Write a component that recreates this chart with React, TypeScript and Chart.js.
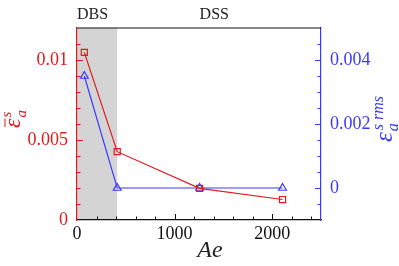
import React, { useEffect, useRef } from "react";
import { Chart, registerables } from "chart.js";

Chart.register(...registerables);

// ---- data ----
const aeValues = [75, 412, 1256, 2106];
const meanStrain = [0.01048, 0.00427, 0.00198, 0.00128];
const rmsStrain = [0.0035, 0, 0, 0];

const xTickValues = [0, 1000, 2000];
const xTickLabels = ["0", "1000", "2000"];
const yLeftTickValues = [0, 0.005, 0.01];
const yLeftTickLabels = ["0", "0.005", "0.01"];
const yRightTickValues = [0, 0.002, 0.004];
const yRightTickLabels = ["0", "0.002", "0.004"];

const regimeLabels = ["DBS", "DSS"];
const regimeStarts = [0, 1256];
const dbsShadeRange = [0, 412];

const RED = "#e01a1a";
const BLUE = "#3a3aff";
const SERIF = "'Liberation Serif', 'DejaVu Serif', serif";

function labelFor(values: number[], labels: string[], v: number) {
  const i = values.findIndex((t) => Math.abs(t - v) < 1e-9);
  return i >= 0 ? labels[i] : "";
}

const decorPlugin = {
  id: "decor",
  beforeDraw(chart: any) {
    const { ctx, chartArea, scales } = chart;
    const x0 = scales.x.getPixelForValue(dbsShadeRange[0]);
    const x1 = scales.x.getPixelForValue(dbsShadeRange[1]);
    ctx.save();
    ctx.fillStyle = "#d4d4d4";
    ctx.fillRect(x0, chartArea.top, x1 - x0, chartArea.bottom - chartArea.top);
    ctx.restore();
  },
  afterDraw(chart: any) {
    const { ctx, chartArea, scales } = chart;
    const { left, right, top, bottom } = chartArea;
    ctx.save();
    // top border
    ctx.strokeStyle = "#111";
    ctx.lineWidth = 1.2;
    ctx.beginPath();
    ctx.moveTo(left, top);
    ctx.lineTo(right, top);
    ctx.stroke();

    // inward ticks x
    ctx.lineWidth = 1;
    ctx.strokeStyle = "#111";
    for (let v = 200; v < 2500; v += 200) {
      const px = Math.round(scales.x.getPixelForValue(v)) + 0.5;
      const len = v % 1000 === 0 ? 6 : 3.5;
      ctx.beginPath();
      ctx.moveTo(px, bottom);
      ctx.lineTo(px, bottom - len);
      ctx.stroke();
    }
    // inward ticks left y
    ctx.strokeStyle = RED;
    for (let i = 1; i < 12; i++) {
      const v = i * 0.001;
      const py = Math.round(scales.y.getPixelForValue(v)) + 0.5;
      const len = i % 5 === 0 ? 6 : 3.5;
      ctx.beginPath();
      ctx.moveTo(left, py);
      ctx.lineTo(left + len, py);
      ctx.stroke();
    }
    // inward ticks right y
    ctx.strokeStyle = BLUE;
    for (let i = -1; i < 10; i++) {
      const v = i * 0.0005;
      const py = Math.round(scales.y1.getPixelForValue(v)) + 0.5;
      const len = i % 4 === 0 ? 6 : 3.5;
      ctx.beginPath();
      ctx.moveTo(right, py);
      ctx.lineTo(right - len, py);
      ctx.stroke();
    }

    // regime labels
    ctx.fillStyle = "#222";
    ctx.font = `16px ${SERIF}`;
    ctx.textBaseline = "alphabetic";
    ctx.textAlign = "left";
    regimeLabels.forEach((t, i) => {
      ctx.fillText(t, scales.x.getPixelForValue(regimeStarts[i]), 19);
    });

    // x title
    ctx.fillStyle = "#222";
    ctx.font = `italic 24px ${SERIF}`;
    ctx.textAlign = "center";
    ctx.fillText("Ae", 210, 257);

    // left title
    ctx.save();
    ctx.translate(20, 128);
    ctx.rotate(-Math.PI / 2);
    ctx.fillStyle = RED;
    ctx.strokeStyle = RED;
    ctx.textAlign = "left";
    ctx.font = `italic 24px ${SERIF}`;
    ctx.fillText("ε", 0, 0);
    const w1 = ctx.measureText("ε").width;
    ctx.lineWidth = 1;
    ctx.beginPath();
    ctx.moveTo(1, -15);
    ctx.lineTo(w1, -15);
    ctx.stroke();
    ctx.font = `italic 15px ${SERIF}`;
    ctx.fillText("s", w1 + 1, -9);
    ctx.fillText("a", w1 + 1, 6);
    ctx.restore();

    // right title
    ctx.save();
    ctx.translate(392, 142);
    ctx.rotate(-Math.PI / 2);
    ctx.fillStyle = BLUE;
    ctx.textAlign = "left";
    ctx.font = `italic 25px ${SERIF}`;
    ctx.fillText("ε", 0, 0);
    const w2 = ctx.measureText("ε").width;
    ctx.font = `italic 16px ${SERIF}`;
    ctx.fillText("s rms", w2 + 2, -9);
    ctx.fillText("a", w2 + 1, 6);
    ctx.restore();

    ctx.restore();
  },
};

export default function App() {
  const ref = useRef<HTMLCanvasElement | null>(null);
  useEffect(() => {
    if (!ref.current) return;
    const chart = new Chart(ref.current, {
      type: "scatter",
      data: {
        datasets: [
          {
            label: "mean",
            data: aeValues.map((x, i) => ({ x, y: meanStrain[i] })),
            yAxisID: "y",
            showLine: true,
            borderColor: RED,
            borderWidth: 1.2,
            pointStyle: "rect",
            pointRadius: 4.3,
            pointBorderColor: RED,
            pointBorderWidth: 1.2,
            pointBackgroundColor: "rgba(0,0,0,0)",
          },
          {
            label: "rms",
            data: aeValues.map((x, i) => ({ x, y: rmsStrain[i] })),
            yAxisID: "y1",
            showLine: true,
            borderColor: BLUE,
            borderWidth: 1.2,
            pointStyle: "triangle",
            pointRadius: 4.5,
            pointBorderColor: BLUE,
            pointBorderWidth: 1.2,
            pointBackgroundColor: "rgba(0,0,0,0)",
          },
        ],
      },
      options: {
        animation: false,
        responsive: true,
        maintainAspectRatio: false,
        layout: { padding: { top: 28, left: 0, right: 0, bottom: 0 } },
        plugins: { legend: { display: false }, tooltip: { enabled: false } },
        scales: {
          x: {
            type: "linear",
            min: 0,
            max: 2500,
            grid: { display: false, drawTicks: false },
            border: { display: true, color: "#111", width: 1.2 },
            afterBuildTicks: (s: any) => {
              s.ticks = xTickValues.map((value) => ({ value }));
            },
            afterFit: (s: any) => {
              s.height = 46;
            },
            ticks: {
              color: "#111",
              font: { family: SERIF, size: 18 },
              padding: 3,
              maxRotation: 0,
              callback: (v: any) => labelFor(xTickValues, xTickLabels, Number(v)),
            },
          },
          y: {
            type: "linear",
            position: "left",
            min: 0,
            max: 0.012,
            grid: { display: false, drawTicks: false },
            border: { display: true, color: RED, width: 1.2 },
            afterBuildTicks: (s: any) => {
              s.ticks = yLeftTickValues.map((value) => ({ value }));
            },
            afterFit: (s: any) => {
              s.width = 77;
            },
            ticks: {
              color: RED,
              font: { family: SERIF, size: 18 },
              padding: 9,
              callback: (v: any) => labelFor(yLeftTickValues, yLeftTickLabels, Number(v)),
            },
          },
          y1: {
            type: "linear",
            position: "right",
            min: -0.001,
            max: 0.005,
            grid: { display: false, drawTicks: false },
            border: { display: true, color: BLUE, width: 1.2 },
            afterBuildTicks: (s: any) => {
              s.ticks = yRightTickValues.map((value) => ({ value }));
            },
            afterFit: (s: any) => {
              s.width = 78;
            },
            ticks: {
              color: BLUE,
              font: { family: SERIF, size: 18 },
              padding: 9,
              callback: (v: any) => labelFor(yRightTickValues, yRightTickLabels, Number(v)),
            },
          },
        },
      },
      plugins: [decorPlugin],
    });
    return () => chart.destroy();
  }, []);
  return (
    <div style={{ position: "absolute", left: 0, top: 0, width: 399, height: 266 }}>
      <canvas ref={ref} />
    </div>
  );
}
